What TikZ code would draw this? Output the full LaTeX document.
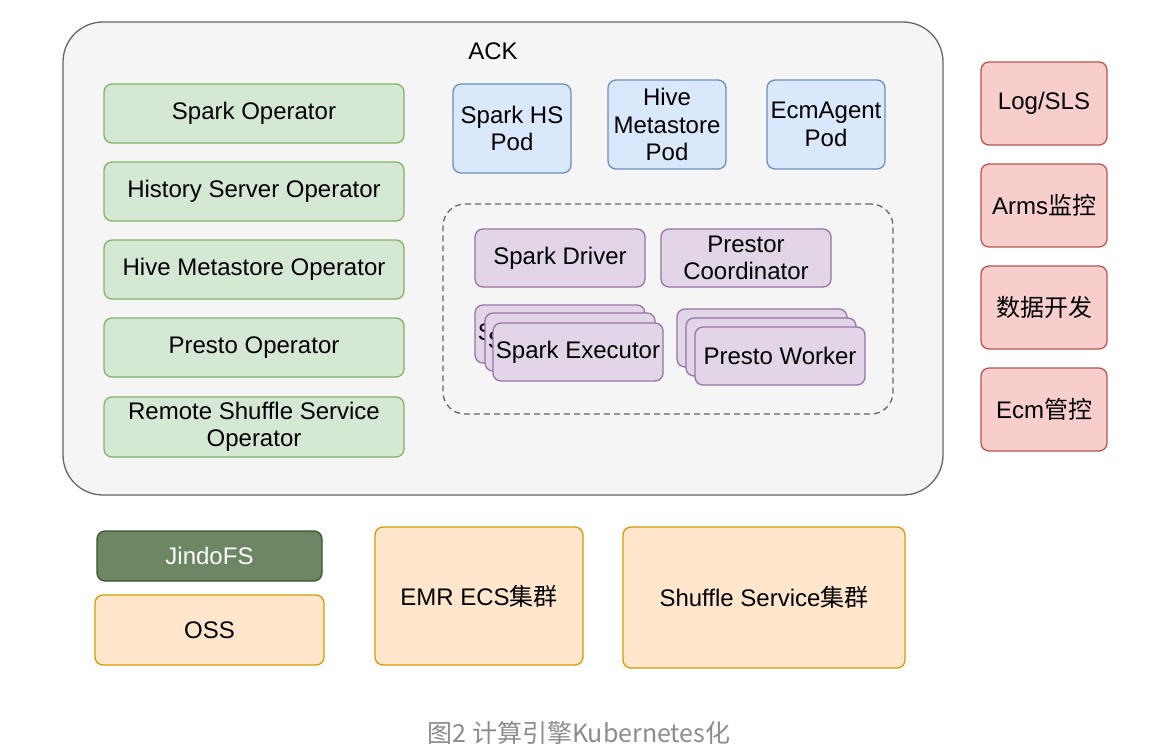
\documentclass[tikz,border=0pt]{standalone}
\usepackage{fontspec}
\setmainfont{Liberation Sans}
\newfontfamily\cjk{Noto Sans CJK SC}
\definecolor{gfill}{HTML}{D5E8D4}\definecolor{gline}{HTML}{82B366}
\definecolor{bfill}{HTML}{DAE8FC}\definecolor{bline}{HTML}{6C8EBF}
\definecolor{pfill}{HTML}{E1D5E7}\definecolor{pline}{HTML}{9673A6}
\definecolor{rfill}{HTML}{F8CECC}\definecolor{rline}{HTML}{B85450}
\definecolor{ofill}{HTML}{FFE6CC}\definecolor{oline}{HTML}{D79B00}
\definecolor{dgfill}{HTML}{6D8764}\definecolor{dgline}{HTML}{3A5431}
\definecolor{ackfill}{HTML}{F5F5F5}\definecolor{ackline}{HTML}{666666}
\definecolor{capcol}{HTML}{8C8C8C}
\tikzset{
  box/.style={draw, line width=1.3pt, rounded corners=8pt, inner sep=0pt, align=center,
    font=\fontsize{24}{27.5}\selectfont},
  green/.style={box, fill=gfill, draw=gline, minimum width=300pt, minimum height=59pt},
  blue/.style={box, fill=bfill, draw=bline, minimum width=118pt, minimum height=89pt},
  purple/.style={box, fill=pfill, draw=pline, minimum width=170pt, minimum height=58pt},
  red/.style={box, fill=rfill, draw=rline, minimum width=126pt, minimum height=83pt},
  orange/.style={box, fill=ofill, draw=oline},
}
\begin{document}
\begin{tikzpicture}[x=1pt,y=-1pt]
\fill[white] (0,0) rectangle (1150,755);
\useasboundingbox (0,0) rectangle (1150,755);
% ACK container
\node[draw=ackline, fill=ackfill, line width=1.3pt, rounded corners=40pt, minimum width=880pt, minimum height=473pt, inner sep=0pt] (ack) at (503,258.5) {};
\node[font=\fontsize{24}{27}\selectfont] (acklabel) at (493,51) {ACK};
% operators
\node[green] (sparkop) at (254,113.5) {Spark Operator};
\node[green] (histop) at (254,191.5) {History Server Operator};
\node[green] (hiveop) at (254,269.5) {Hive Metastore Operator};
\node[green] (prestoop) at (254,347.5) {Presto Operator};
\node[green, minimum height=60pt] (rssop) at (254,427) {Remote Shuffle Service\\Operator};
% pods
\node[blue] (sparkhs) at (512,128.5) {Spark HS\\Pod};
\node[blue] (hivems) at (667,124.5) {Hive\\Metastore\\Pod};
\node[blue] (ecmagent) at (826,124.5) {EcmAgent\\Pod};
% dashed group
\node[draw=ackline, dash pattern=on 6pt off 4pt, line width=1.3pt, rounded corners=22pt, minimum width=450pt, minimum height=210pt, inner sep=0pt] (grp) at (668,309) {};
\node[purple] (driver) at (560,258) {Spark Driver};
\node[purple] (coord) at (746,258) {Prestor\\Coordinator};
\node[purple] (exec3) at (560,334) {Spark Executor};
\node[purple] (exec2) at (570,342) {Spark Executor};
\node[purple] (exec1) at (578,352) {Spark Executor};
\node[purple] (work3) at (762,338) {Presto Worker};
\node[purple] (work2) at (771,347) {Presto Worker};
\node[purple] (work1) at (780,356) {Presto Worker};
% right column
\node[red] (log) at (1044,103.5) {Log/SLS};
\node[red] (arms) at (1044,205.5) {Arms{\cjk 监控}};
\node[red] (data) at (1044,307.5) {{\cjk 数据开发}};
\node[red] (ecm) at (1044,409.5) {Ecm{\cjk 管控}};
% bottom
\node[box, fill=dgfill, draw=dgline, text=white, minimum width=225pt, minimum height=50pt] (jindo) at (209.5,556) {JindoFS};
\node[orange, minimum width=229pt, minimum height=70pt] (oss) at (209.5,630) {OSS};
\node[orange, minimum width=208pt, minimum height=138pt] (emr) at (479,596) {EMR ECS{\cjk 集群}};
\node[orange, minimum width=282pt, minimum height=141pt] (shuffle) at (764,597.5) {Shuffle Service{\cjk 集群}};
% caption
\node[font=\fontsize{25}{28}\selectfont\cjk, text=capcol] (caption) at (579,733) {图2 计算引擎Kubernetes化};
\end{tikzpicture}
\end{document}
